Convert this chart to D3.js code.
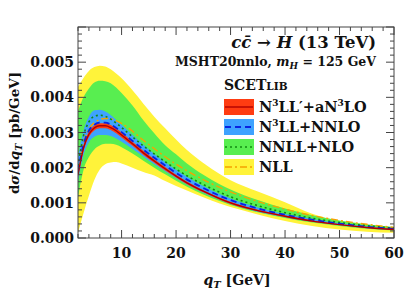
<!DOCTYPE html>
<html><head><meta charset="utf-8">
<script src="https://cdn.jsdelivr.net/npm/d3@7"></script>
<style>
html,body{margin:0;padding:0;background:#fff;}
text{font-family:"DejaVu Serif",serif;font-weight:bold;fill:#111;}
</style></head>
<body><svg id="c" width="407" height="296"></svg>
<script>
const qT = [2,3,4,5,6,7,8,9,10,12,14,16,18,20,22,25,28,30,35,40,45,50,55,60];
// N3LL'+aN3LO (values in 1e-3 pb/GeV)
const n3llpCentral = [1.80,2.55,2.95,3.13,3.19,3.19,3.14,3.05,2.93,2.68,2.42,2.19,1.97,1.76,1.57,1.33,1.12,1.00,0.78,0.62,0.48,0.38,0.30,0.24];
const n3llpUpper   = [1.88,2.63,3.03,3.20,3.26,3.26,3.21,3.12,3.00,2.74,2.48,2.24,2.02,1.80,1.61,1.36,1.15,1.03,0.80,0.64,0.50,0.39,0.31,0.25];
const n3llpLower   = [1.72,2.47,2.87,3.06,3.12,3.12,3.07,2.98,2.86,2.62,2.36,2.14,1.92,1.72,1.53,1.30,1.09,0.97,0.76,0.60,0.46,0.37,0.29,0.23];
// N3LL+NNLO
const n3llCentral = [1.90,2.65,3.05,3.22,3.28,3.28,3.23,3.13,3.01,2.76,2.51,2.28,2.06,1.85,1.66,1.42,1.20,1.08,0.84,0.66,0.52,0.41,0.32,0.26];
const n3llUpper   = [2.30,3.05,3.45,3.63,3.65,3.60,3.50,3.36,3.22,2.93,2.65,2.39,2.16,1.94,1.74,1.48,1.25,1.12,0.87,0.68,0.54,0.42,0.33,0.27];
const n3llLower   = [1.60,2.35,2.72,2.88,2.93,2.93,2.90,2.83,2.74,2.53,2.31,2.10,1.90,1.70,1.52,1.29,1.09,0.97,0.75,0.59,0.46,0.36,0.28,0.22];
// NNLL+NLO
const nnllCentral = [2.05,2.90,3.30,3.46,3.49,3.46,3.38,3.27,3.14,2.88,2.62,2.39,2.17,1.96,1.77,1.52,1.30,1.17,0.92,0.72,0.56,0.44,0.35,0.28];
const nnllUpper   = [3.60,4.00,4.25,4.42,4.47,4.46,4.40,4.28,4.12,3.77,3.35,2.98,2.64,2.38,2.12,1.80,1.53,1.38,1.08,0.84,0.65,0.50,0.39,0.31];
const nnllLower   = [1.15,1.93,2.30,2.52,2.63,2.68,2.68,2.65,2.58,2.40,2.20,2.00,1.81,1.63,1.46,1.24,1.05,0.94,0.73,0.57,0.44,0.34,0.26,0.21];
// NLL
const nllCentral = [1.90,2.70,3.10,3.28,3.37,3.40,3.39,3.34,3.26,3.04,2.78,2.54,2.31,2.10,1.91,1.66,1.44,1.31,1.04,0.82,0.64,0.50,0.39,0.30];
const nllUpper   = [4.30,4.55,4.75,4.86,4.90,4.88,4.80,4.68,4.54,4.20,3.82,3.45,3.12,2.80,2.50,2.13,1.82,1.64,1.32,1.02,0.69,0.48,0.36,0.29];
const nllLower   = [0.15,0.70,1.20,1.65,1.95,2.10,2.15,2.16,2.12,2.00,1.88,1.78,1.62,1.48,1.35,1.16,0.98,0.88,0.67,0.48,0.34,0.24,0.18,0.15];

const xTicks = [10,20,30,40,50,60];
const yTicks = [0,0.001,0.002,0.003,0.004,0.005];
const yTickLabels = ["0.000","0.001","0.002","0.003","0.004","0.005"];

const svg = d3.select("#c");
const L=78, R=394, T=27, B=238;
const x = d3.scaleLinear().domain([2,60]).range([L,R]);
const y = d3.scaleLinear().domain([0,0.006]).range([B,T]);
const S = 1e-3;

const g = svg.append("g");
svg.append("clipPath").attr("id","cl").append("rect").attr("x",L).attr("y",T).attr("width",R-L).attr("height",B-T);
const plot = g.append("g").attr("clip-path","url(#cl)");

const area = (lo,hi)=>d3.area().x((d,i)=>x(qT[i])).y0((d,i)=>y(lo[i]*S)).y1((d,i)=>y(hi[i]*S)).curve(d3.curveMonotoneX)(qT);
const line = (c)=>d3.line().x((d,i)=>x(qT[i])).y((d,i)=>y(c[i]*S)).curve(d3.curveMonotoneX)(qT);

const series = [
  {band:"#fff33a", lc:"#f5a300", dash:"7,3,2,3", w:1.4, lo:nllLower, hi:nllUpper, c:nllCentral},
  {band:"#58ee50", lc:"#108a10", dash:"2,3", w:1.6, lo:nnllLower, hi:nnllUpper, c:nnllCentral},
  {band:"#3ea2ff", lc:"#0a22e0", dash:"6,4", w:1.8, lo:n3llLower, hi:n3llUpper, c:n3llCentral},
  {band:"#ff3c12", lc:"#b00000", dash:null, w:1.4, lo:n3llpLower, hi:n3llpUpper, c:n3llpCentral}
];
series.forEach(s=>plot.append("path").attr("d",area(s.lo,s.hi)).attr("fill",s.band));
series.forEach(s=>{
  const p = plot.append("path").attr("d",line(s.c)).attr("fill","none").attr("stroke",s.lc).attr("stroke-width",s.w);
  if(s.dash) p.attr("stroke-dasharray",s.dash);
});

// frame
const fc="#444";
g.append("rect").attr("x",L).attr("y",T).attr("width",R-L).attr("height",B-T).attr("fill","none").attr("stroke",fc).attr("stroke-width",1);

// ticks
const xMinor = d3.range(2,61,2);
const yMinor = d3.range(0,0.00601,0.0002);
xMinor.forEach(v=>{
  const major = v%10===0;
  const len = major?8:4;
  g.append("line").attr("x1",x(v)).attr("x2",x(v)).attr("y1",B).attr("y2",B-len).attr("stroke",fc);
  g.append("line").attr("x1",x(v)).attr("x2",x(v)).attr("y1",T).attr("y2",T+len).attr("stroke",fc);
});
yMinor.forEach(v=>{
  const major = Math.abs(v/0.001-Math.round(v/0.001))<1e-6;
  const len = major?8:4;
  g.append("line").attr("x1",L).attr("x2",L+len).attr("y1",y(v)).attr("y2",y(v)).attr("stroke",fc);
  g.append("line").attr("x1",R).attr("x2",R-len).attr("y1",y(v)).attr("y2",y(v)).attr("stroke",fc);
});

// tick labels
xTicks.forEach(v=>g.append("text").attr("x",x(v)).attr("y",258).attr("text-anchor","middle").attr("font-size",14).text(v));
yTicks.forEach((v,i)=>g.append("text").attr("x",74).attr("y",y(v)+5).attr("text-anchor","end").attr("font-size",14).text(yTickLabels[i]));

// x label
const xl = g.append("text").attr("x",237).attr("y",285).attr("text-anchor","middle").attr("font-size",14);
xl.append("tspan").attr("font-style","italic").text("q");
xl.append("tspan").attr("font-style","italic").attr("font-size",10).attr("dy",3).text("T");
xl.append("tspan").attr("dy",-3).text(" [GeV]");

// y label
const yl = g.append("text").attr("transform","translate(19,133) rotate(-90)").attr("text-anchor","middle").attr("font-size",13.5);
yl.append("tspan").text("d");
yl.append("tspan").attr("font-style","italic").text("σ");
yl.append("tspan").text("/d");
yl.append("tspan").attr("font-style","italic").text("q");
yl.append("tspan").attr("font-style","italic").attr("font-size",9.5).attr("dy",3).text("T");
yl.append("tspan").attr("dy",-3).text(" [pb/GeV]");

// title
const t1 = g.append("text").attr("x",376).attr("y",48).attr("text-anchor","end").attr("font-size",16.5);
t1.append("tspan").attr("font-style","italic").text("c\u0063\u0304");
t1.append("tspan").text(" → ");
t1.append("tspan").attr("font-style","italic").text("H");
t1.append("tspan").text(" (13 TeV)");

const t2 = g.append("text").attr("x",376).attr("y",66).attr("text-anchor","end").attr("font-size",12.5);
t2.append("tspan").text("MSHT20nnlo, ");
t2.append("tspan").attr("font-style","italic").text("m");
t2.append("tspan").attr("font-style","italic").attr("font-size",9).attr("dy",2.5).text("H");
t2.append("tspan").attr("dy",-2.5).text(" = 125 GeV");

const t3 = g.append("text").attr("x",224).attr("y",90).attr("font-size",14);
t3.append("tspan").text("SCET");
t3.append("tspan").attr("font-size",10.5).text("LIB");

// legend
const legendLabels = [
  [["N",0],["3",1],["LL′+aN",0],["3",1],["LO",0]],
  [["N",0],["3",1],["LL+NNLO",0]],
  [["NNLL+NLO",0]],
  [["NLL",0]]
];
const legOrder = [3,2,1,0];
legOrder.forEach((si,i)=>{
  const s = series[si];
  const y0 = 99 + i*20;
  g.append("rect").attr("x",224).attr("y",y0).attr("width",30).attr("height",16).attr("fill",s.band);
  const ln = g.append("line").attr("x1",225).attr("x2",253).attr("y1",y0+8).attr("y2",y0+8).attr("stroke",s.lc).attr("stroke-width",s.w);
  if(s.dash) ln.attr("stroke-dasharray",s.dash);
  const tx = g.append("text").attr("x",259).attr("y",y0+13).attr("font-size",14.5);
  let up=false;
  legendLabels[i].forEach(([str,sup])=>{
    const ts = tx.append("tspan").text(str);
    if(sup && !up){ts.attr("font-size",9).attr("dy",-6); up=true;}
    else if(!sup && up){ts.attr("dy",6); up=false;}
  });
});
</script></body></html>
